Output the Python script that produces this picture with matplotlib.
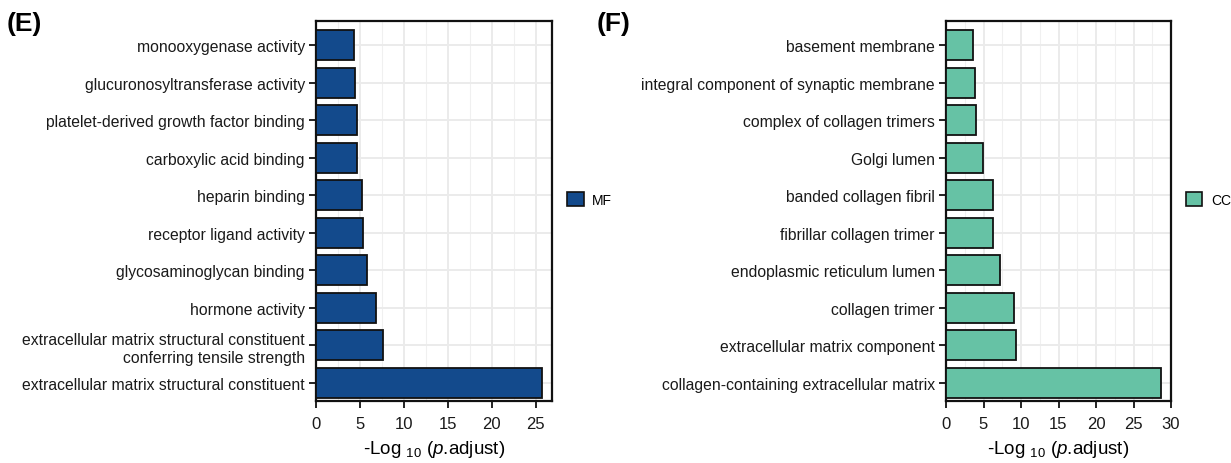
import matplotlib
matplotlib.use("Agg")
import matplotlib.pyplot as plt
from matplotlib.patches import Patch

plt.rcParams['font.family'] = ['Liberation Sans', 'DejaVu Sans']
plt.rcParams['mathtext.fontset'] = 'custom'
plt.rcParams['mathtext.rm'] = 'Liberation Sans'
plt.rcParams['mathtext.it'] = 'Liberation Sans:italic'

# terms listed top -> bottom as in the figure
mf_terms = [
    "monooxygenase activity",
    "glucuronosyltransferase activity",
    "platelet-derived growth factor binding",
    "carboxylic acid binding",
    "heparin binding",
    "receptor ligand activity",
    "glycosaminoglycan binding",
    "hormone activity",
    "extracellular matrix structural constituent\nconferring tensile strength",
    "extracellular matrix structural constituent",
]
mf_vals = [4.28, 4.43, 4.62, 4.62, 5.23, 5.3, 5.76, 6.86, 7.58, 25.7]

cc_terms = [
    "basement membrane",
    "integral component of synaptic membrane",
    "complex of collagen trimers",
    "Golgi lumen",
    "banded collagen fibril",
    "fibrillar collagen trimer",
    "endoplasmic reticulum lumen",
    "collagen trimer",
    "extracellular matrix component",
    "collagen-containing extracellular matrix",
]
cc_vals = [3.6, 3.9, 4.0, 4.98, 6.3, 6.3, 7.17, 9.1, 9.3, 28.6]

mf_xticks = [0, 5, 10, 15, 20, 25]
cc_xticks = [0, 5, 10, 15, 20, 25, 30]

W, H = 1231, 464
fig = plt.figure(figsize=(W / 100, H / 100), dpi=100)


def panel(rect, terms, vals, color, name, xmax, xticks, tag, tagx):
    ax = fig.add_axes(rect)
    n = len(terms)
    ypos = list(range(n))[::-1]
    ax.barh(ypos, vals, height=0.8, color=color, edgecolor='#111111',
            linewidth=1.3, zorder=3, label=name)
    ax.set_yticks(ypos)
    ax.set_yticklabels(terms, fontsize=11.3, color='#1a1a1a', linespacing=1.25)
    ax.set_xlim(0, xmax)
    ax.set_ylim(-0.48, n - 1 + 0.64)
    ax.set_xticks(xticks)
    ax.set_xticklabels([str(t) for t in xticks], fontsize=12, color='#1a1a1a')
    minors = [t + 2.5 for t in xticks if t + 2.5 < xmax]
    ax.set_xticks(minors, minor=True)
    ax.tick_params(axis='x', which='minor', length=0)
    ax.grid(True, which='major', color='#EBEBEB', linewidth=1.4, zorder=0)
    ax.grid(True, which='minor', axis='x', color='#F0F0F0', linewidth=0.8, zorder=0)
    ax.set_axisbelow(True)
    for s in ax.spines.values():
        s.set_linewidth(1.6)
        s.set_color('#111111')
    ax.tick_params(axis='both', which='major', length=5, width=1.3, color='#111111', pad=3)
    ax.tick_params(axis='x', which='major', pad=6)
    ax.set_xlabel(r'-Log $_{10}$ ($\mathit{p}$.adjust)', fontsize=13.5, labelpad=5)
    ax.legend(handles=[Patch(facecolor=color, edgecolor='#111111', linewidth=1.2, label=name)],
              loc='center left', bbox_to_anchor=(1.01, 0.53), frameon=False,
              handlelength=1.2, handleheight=1.2, handletextpad=0.6, fontsize=10)
    fig.text(tagx, 1 - 24 / H, tag, fontsize=19, fontweight='bold', va='center', ha='left')
    return ax


bottom = (H - 402) / H
height = 380 / H
panel([316 / W, bottom, 236 / W, height], mf_terms, mf_vals, '#134A8C', 'MF',
      26.85, mf_xticks, '(E)', 7 / W)
panel([946 / W, bottom, 225 / W, height], cc_terms, cc_vals, '#66C2A5', 'CC',
      30, cc_xticks, '(F)', 597 / W)

fig.savefig('out.png', dpi=100)
